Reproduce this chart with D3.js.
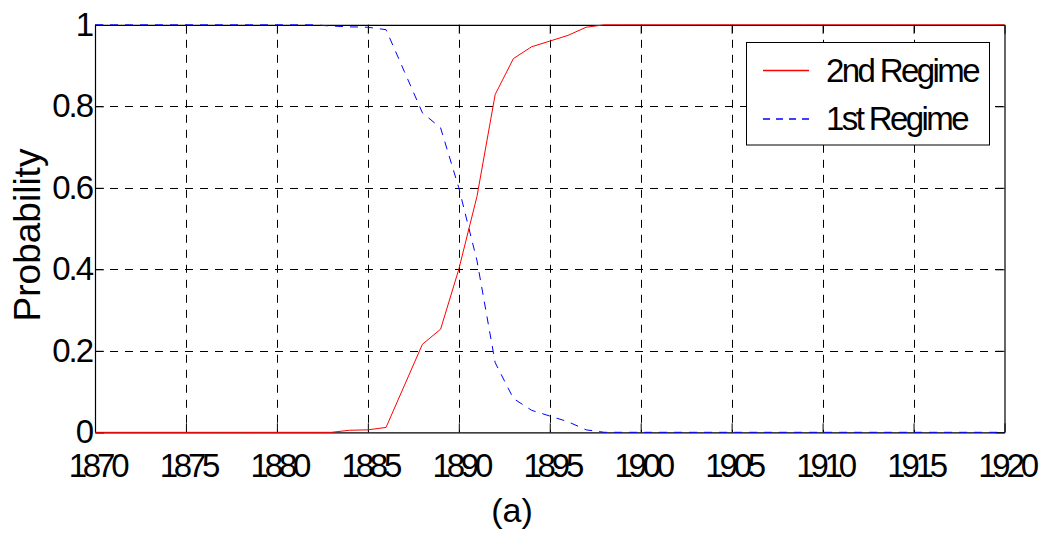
<!DOCTYPE html>
<html>
<head>
<meta charset="utf-8">
<script src="https://cdn.jsdelivr.net/npm/d3@7"></script>
<style>
  html, body { margin: 0; padding: 0; background: #fff; }
  svg { display: block; }
  text { font-family: "Liberation Sans", Arial, sans-serif; fill: #000; }
</style>
</head>
<body>
<svg id="chart" width="1042" height="534"></svg>
<script>
// Years on the horizontal axis
const years = [1870,1871,1872,1873,1874,1875,1876,1877,1878,1879,
  1880,1881,1882,1883,1884,1885,1886,1887,1888,1889,
  1890,1891,1892,1893,1894,1895,1896,1897,1898,1899,
  1900,1901,1902,1903,1904,1905,1906,1907,1908,1909,
  1910,1911,1912,1913,1914,1915,1916,1917,1918,1919,1920];

// Smoothed probability of being in the 2nd regime
const regime2 = [0,0,0,0,0,0,0,0,0,0,
  0,0,0,0,0.005,0.006,0.012,0.114,0.216,0.253,
  0.40,0.579,0.829,0.917,0.946,0.96,0.974,0.994,1,1,
  1,1,1,1,1,1,1,1,1,1,
  1,1,1,1,1,1,1,1,1,1,1];

// Smoothed probability of being in the 1st regime
const regime1 = [1,1,1,1,1,1,1,1,1,1,
  1,1,1,0.997,0.995,0.994,0.988,0.886,0.784,0.747,
  0.60,0.421,0.171,0.083,0.054,0.04,0.026,0.006,0,0,
  0,0,0,0,0,0,0,0,0,0,
  0,0,0,0,0,0,0,0,0,0,0];

const xTicks = [1870,1875,1880,1885,1890,1895,1900,1905,1910,1915,1920];
const yTicks = [0,0.2,0.4,0.6,0.8,1];
const legendLabels = ["2nd Regime", "1st Regime"];

const svg = d3.select("#chart");
const L = 95, R = 1004.5, T = 24.8, B = 432.3;

const x = d3.scaleLinear().domain([1870, 1920]).range([L, R]);
const y = d3.scaleLinear().domain([0, 1]).range([B, T]);

// dashed grid
const grid = svg.append("g")
  .attr("stroke", "#000").attr("stroke-width", 1)
  .attr("stroke-dasharray", "8,7").attr("fill", "none");
grid.selectAll("line.v").data(xTicks.slice(1, -1)).join("line")
  .attr("x1", d => Math.round(x(d)) + 0.5).attr("x2", d => Math.round(x(d)) + 0.5)
  .attr("y1", T).attr("y2", B);
grid.selectAll("line.h").data(yTicks.slice(1, -1)).join("line")
  .attr("y1", d => Math.round(y(d)) + 0.5).attr("y2", d => Math.round(y(d)) + 0.5)
  .attr("x1", L).attr("x2", R);

// axes: ticks point inward on all four sides
const tickLen = 9;
const xAxisB = d3.axisBottom(x).tickValues(xTicks).tickSize(-tickLen).tickFormat("").tickSizeOuter(0);
const xAxisT = d3.axisTop(x).tickValues(xTicks).tickSize(-tickLen).tickFormat("").tickSizeOuter(0);
const yAxisL = d3.axisLeft(y).tickValues(yTicks).tickSize(-tickLen).tickFormat("").tickSizeOuter(0);
const yAxisR = d3.axisRight(y).tickValues(yTicks).tickSize(-tickLen).tickFormat("").tickSizeOuter(0);

function styleAxis(g) {
  g.selectAll("path").attr("stroke", "#000").attr("stroke-width", 1.2);
  g.selectAll("line").attr("stroke", "#000").attr("stroke-width", 1);
}
svg.append("g").attr("transform", `translate(0,${B})`).call(xAxisB).call(styleAxis);
svg.append("g").attr("transform", `translate(0,${T})`).call(xAxisT).call(styleAxis);
svg.append("g").attr("transform", `translate(${L},0)`).call(yAxisL).call(styleAxis);
svg.append("g").attr("transform", `translate(${R},0)`).call(yAxisR).call(styleAxis);

// tick labels
svg.append("g").selectAll("text").data(xTicks).join("text")
  .attr("x", d => x(d)).attr("y", 477)
  .attr("text-anchor", "middle")
  .attr("font-size", 33).attr("letter-spacing", -4.2)
  .attr("dx", 2)
  .text(d => d);
svg.append("g").selectAll("text").data(yTicks).join("text")
  .attr("x", 92).attr("y", d => y(d) + 11)
  .attr("text-anchor", "end")
  .attr("font-size", 33).attr("letter-spacing", -2)
  .text(d => d === 0 || d === 1 ? d : d3.format(".1f")(d));

// axis titles
svg.append("text")
  .attr("transform", "translate(40,235) rotate(-90)")
  .attr("text-anchor", "middle")
  .attr("font-size", 37)
  .text("Probability");
svg.append("text")
  .attr("x", 512).attr("y", 522)
  .attr("text-anchor", "middle")
  .attr("font-size", 34)
  .text("(a)");

// probability series
const line = d3.line().x((d, i) => x(years[i])).y(d => y(d));
svg.append("path").datum(regime1)
  .attr("d", line).attr("fill", "none")
  .attr("stroke", "#0000ff").attr("stroke-width", 1)
  .attr("stroke-dasharray", "8,7");
svg.append("path").datum(regime2)
  .attr("d", line).attr("fill", "none")
  .attr("stroke", "#ff0000").attr("stroke-width", 1);

// legend
const lg = svg.append("g");
lg.append("rect")
  .attr("x", 746.5).attr("y", 42.5).attr("width", 243).attr("height", 102.5)
  .attr("fill", "#fff").attr("stroke", "#000").attr("stroke-width", 1);
const legendStyles = [
  { color: "#ff0000", dash: null, y: 70.5 },
  { color: "#0000ff", dash: "7,6", y: 119 }
];
legendStyles.forEach((s, i) => {
  lg.append("line")
    .attr("x1", 763).attr("x2", 809).attr("y1", s.y).attr("y2", s.y)
    .attr("stroke", s.color).attr("stroke-width", 1.3)
    .attr("stroke-dasharray", s.dash);
  lg.append("text")
    .attr("x", 826).attr("y", s.y + 11)
    .attr("font-size", 33).attr("letter-spacing", -2.6)
    .text(legendLabels[i]);
});
</script>
</body>
</html>
